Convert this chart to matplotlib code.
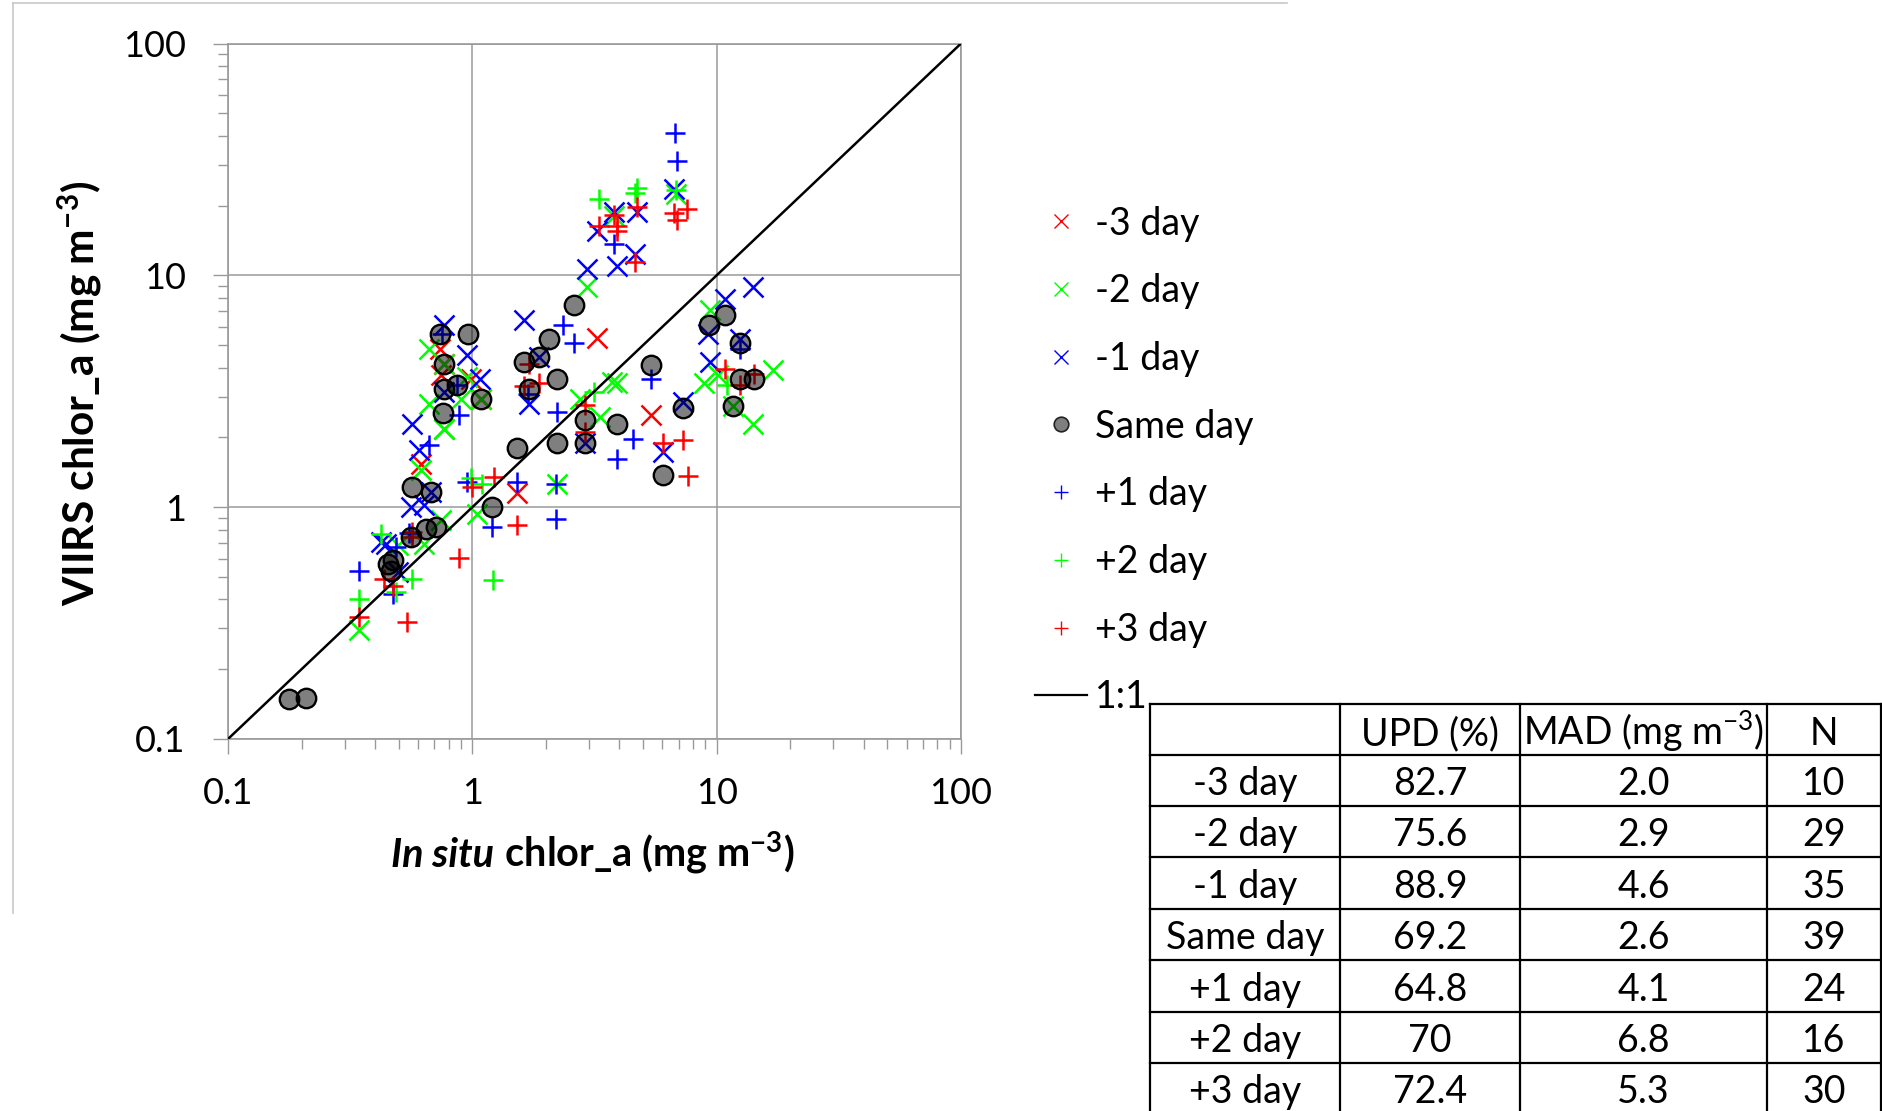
import matplotlib
matplotlib.use('Agg')
import matplotlib.pyplot as plt
from matplotlib.lines import Line2D
from matplotlib.ticker import LogLocator, NullFormatter

plt.rcParams['font.family'] = ['Lato', 'DejaVu Sans']
plt.rcParams['mathtext.fontset'] = 'custom'
plt.rcParams['mathtext.rm'] = 'Lato'
plt.rcParams['mathtext.it'] = 'Lato:italic'
plt.rcParams['mathtext.bf'] = 'Lato:bold'

# ---------------- data ----------------
m3_x = [0.738, 0.766, 0.743, 0.984, 1.081, 0.766, 0.615, 1.527, 3.237, 5.394]
m3_y = [4.83, 4.16, 3.70, 3.58, 2.94, 2.18, 1.54, 1.15, 5.38, 2.51]

m2_x = [0.665, 0.766, 0.954, 0.665, 0.896, 1.081, 0.766, 0.615, 0.743, 0.634,
        0.494, 0.344, 1.048, 2.223, 2.767, 3.728, 3.906, 3.340, 2.946, 3.80,
        6.82, 9.39, 8.875, 10.15, 11.69, 14.1, 16.93]
m2_y = [4.83, 4.16, 3.64, 2.79, 2.94, 2.94, 2.18, 1.44, 0.876, 0.695,
        0.684, 0.294, 0.936, 1.26, 2.94, 3.46, 3.43, 2.44, 8.90, 18.0,
        22.4, 7.06, 3.43, 3.70, 2.72, 2.29, 3.92]

m1_x = [0.766, 0.954, 1.074, 0.766, 0.569, 0.605, 0.560, 0.634, 0.680, 0.422,
        0.443, 0.494, 1.624, 1.870, 1.702, 2.901, 2.946, 3.906, 4.640, 3.237,
        3.784, 4.714, 6.714, 7.307, 6.05, 9.24, 9.39, 10.81, 14.1, 12.45]
m1_y = [6.08, 4.52, 3.58, 3.14, 2.29, 1.76, 1.0, 1.017, 1.16, 0.706,
        0.695, 0.524, 6.40, 4.44, 2.79, 1.89, 10.7, 11.0, 12.4, 15.6,
        18.8, 18.8, 23.5, 2.84, 1.73, 5.60, 4.23, 7.93, 8.90, 5.33]

same_x = [0.178, 0.209, 0.450, 0.4715, 0.464, 0.560, 0.645, 0.708, 0.569, 0.680,
          0.762, 0.766, 0.863, 1.081, 0.766, 0.738, 0.959, 1.207, 1.527, 1.624,
          1.702, 1.870, 2.055, 2.223, 2.223, 2.598, 2.901, 2.901, 3.906, 5.394,
          6.021, 7.307, 9.33, 10.81, 12.45, 12.45, 14.2, 11.62]
same_y = [0.149, 0.151, 0.570, 0.589, 0.533, 0.742, 0.807, 0.820, 1.22, 1.16,
          2.55, 3.24, 3.35, 2.94, 4.16, 5.60, 5.60, 1.0, 1.80, 4.23,
          3.24, 4.44, 5.33, 3.58, 1.89, 7.42, 2.37, 1.89, 2.28, 4.09,
          1.38, 2.69, 6.08, 6.72, 5.12, 3.58, 3.58, 2.72]

p1_x = [0.749, 0.863, 0.882, 0.665, 0.486, 0.344, 0.4715, 0.954, 1.207, 1.527,
        2.21, 2.21, 1.693, 2.223, 2.352, 2.598, 3.784, 6.76, 6.868, 5.394,
        4.566, 3.906, 12.45, 0.55]
p1_y = [5.56, 3.35, 2.49, 1.85, 0.672, 0.533, 0.423, 1.28, 0.825, 1.28,
        1.26, 0.891, 3.09, 2.57, 6.08, 5.10, 13.7, 41.1, 31.1, 3.58,
        1.97, 1.62, 4.83, 0.77]

p2_x = [0.422, 0.344, 0.569, 0.486, 0.984, 1.098, 1.214, 3.135, 3.287, 4.714,
        4.64, 6.82, 10.98]
p2_y = [0.768, 0.402, 0.491, 0.430, 1.33, 1.26, 0.483, 3.14, 21.4, 23.7,
        22.7, 23.3, 3.35]

p3_x = [6.714, 6.868, 7.545, 4.74, 3.784, 3.287, 3.918, 3.918, 4.640, 1.702,
        1.624, 1.870, 2.901, 2.901, 6.021, 7.307, 7.658, 10.81, 14.2, 12.45,
        1.225, 1.0, 1.527, 0.882, 0.538, 0.344, 0.569, 0.569, 0.436, 0.4715]
p3_y = [18.5, 17.3, 19.4, 19.7, 18.2, 16.4, 16.4, 15.5, 11.4, 4.16,
        3.32, 3.43, 2.75, 2.11, 1.89, 1.94, 1.36, 3.96, 3.74, 3.35,
        1.35, 1.22, 0.834, 0.605, 0.319, 0.335, 0.780, 0.742, 0.491, 0.459]

one_to_one = [0.1, 100]
tick_values = [0.1, 1, 10, 100]
tick_labels = ['0.1', '1', '10', '100']

table_header = ['', 'UPD (%)', 'MAD (mg m$^{-3}$)', 'N']
table_rows = ['-3 day', '-2 day', '-1 day', 'Same day', '+1 day', '+2 day', '+3 day']
table_upd = ['82.7', '75.6', '88.9', '69.2', '64.8', '70', '72.4']
table_mad = ['2.0', '2.9', '4.6', '2.6', '4.1', '6.8', '5.3']
table_n = ['10', '29', '35', '39', '24', '16', '30']

# ---------------- figure ----------------
W, H = 1883, 1111
fig = plt.figure(figsize=(W / 100, H / 100), dpi=100)
fig.patch.set_facecolor('white')


def fx(px):
    return px / W


def fy(py):
    return 1 - py / H


ax = fig.add_axes([fx(228), fy(739), fx(961) - fx(228), fy(43.5) - fy(739)])
ax.set_xscale('log')
ax.set_yscale('log')
ax.set_xlim(0.1, 100)
ax.set_ylim(0.1, 100)

RED, GREEN, BLUE = '#ff0000', '#00ff00', '#0000ff'
MS, MEW = 14.4, 1.8
series = [
    ('-3 day', m3_x, m3_y, 'x', RED),
    ('-2 day', m2_x, m2_y, 'x', GREEN),
    ('-1 day', m1_x, m1_y, 'x', BLUE),
    ('+1 day', p1_x, p1_y, '+', BLUE),
    ('+2 day', p2_x, p2_y, '+', GREEN),
    ('+3 day', p3_x, p3_y, '+', RED),
]
for lab, xs, ys, mk, col in series:
    ax.plot(xs, ys, linestyle='none', marker=mk, ms=MS, mew=MEW, color=col, zorder=3)
ax.plot(same_x, same_y, linestyle='none', marker='o', ms=14,
        mfc=(0, 0, 0, 0.5), mec='black', mew=1.7, zorder=4)
ax.plot(one_to_one, one_to_one, color='black', lw=1.8, zorder=5)

GRAY = '#9a9a9a'
ax.grid(True, which='major', color=GRAY, lw=1.1, zorder=0)
for s in ax.spines.values():
    s.set_color(GRAY)
    s.set_linewidth(1.2)
ax.set_axisbelow(True)
ax.set_xticks(tick_values)
ax.set_xticklabels(tick_labels)
ax.set_yticks(tick_values)
ax.set_yticklabels(tick_labels)
ax.xaxis.set_minor_locator(LogLocator(base=10, subs=range(2, 10)))
ax.yaxis.set_minor_locator(LogLocator(base=10, subs=range(2, 10)))
ax.xaxis.set_minor_formatter(NullFormatter())
ax.yaxis.set_minor_formatter(NullFormatter())
ax.tick_params(which='major', direction='out', length=10.5, width=1.0, color=GRAY,
               labelsize=26, labelcolor='black')
ax.tick_params(which='minor', direction='out', length=7.5, width=1.0, color=GRAY)
ax.tick_params(axis='x', which='major', pad=17)
ax.tick_params(axis='y', which='major', pad=20)

# y label
fig.text(fx(80), fy(393), 'VIIRS chlor_a (mg m$^{\\mathbf{-3}}$)', rotation=90,
         ha='center', va='center', fontsize=30.5, fontweight='bold')

# x label (italic part + regular part)
fig.canvas.draw()
r = fig.canvas.get_renderer()
t1 = fig.text(0, fy(867), 'In situ', fontsize=28.5, fontweight='bold', style='italic',
              ha='left', va='baseline')
t2 = fig.text(0, fy(867), ' chlor_a (mg m$^{\\mathbf{-3}}$)', fontsize=28.5, fontweight='bold',
              ha='left', va='baseline')
w1 = t1.get_window_extent(r).width
w2 = t2.get_window_extent(r).width
x0 = 592.7 - (w1 + w2) / 2
t1.set_x(fx(x0))
t2.set_x(fx(x0 + w1))

# legend
handles = []
labels = []
leg_specs = [('-3 day', 'x', RED), ('-2 day', 'x', GREEN), ('-1 day', 'x', BLUE),
             ('Same day', 'o', None), ('+1 day', '+', BLUE), ('+2 day', '+', GREEN),
             ('+3 day', '+', RED)]
for lab, mk, col in leg_specs:
    if mk == 'o':
        h = Line2D([], [], linestyle='none', marker='o', ms=10.5, mfc='#7f7f7f',
                   mec='#222222', mew=1.2)
    else:
        h = Line2D([], [], linestyle='none', marker=mk, ms=10, mew=1.0, color=col)
    handles.append(h)
    labels.append(lab)
handles.append(Line2D([], [], color='black', lw=1.6))
labels.append('1:1')
leg = ax.legend(handles, labels, loc='upper left', bbox_to_anchor=(fx(1035), fy(205.5)),
                bbox_transform=fig.transFigure, frameon=False, fontsize=27,
                labelspacing=0.845, handlelength=1.39, handletextpad=0.2,
                borderpad=0, borderaxespad=0, numpoints=1)

# figure frame (chart area border)
FR = '#c8c8c8'
fig.add_artist(Line2D([fx(12.7), fx(1287)], [fy(3.3), fy(3.3)], color=FR, lw=1.2,
                      transform=fig.transFigure))
fig.add_artist(Line2D([fx(12.7), fx(12.7)], [fy(3.3), fy(913)], color=FR, lw=1.2,
                      transform=fig.transFigure))

# table
col_x = [1150, 1340, 1520, 1767, 1881]
row_y = [704, 755, 806, 857, 909, 960, 1012, 1063, 1114]
for xx in col_x:
    fig.add_artist(Line2D([fx(xx), fx(xx)], [fy(row_y[0]), fy(row_y[-1])], color='black',
                          lw=1.6, transform=fig.transFigure, clip_on=False))
for yy in row_y:
    fig.add_artist(Line2D([fx(col_x[0]), fx(col_x[-1])], [fy(yy), fy(yy)], color='black',
                          lw=1.6, transform=fig.transFigure, clip_on=False))
for j, txt in enumerate(table_header):
    cx = (col_x[j] + col_x[j + 1]) / 2
    fig.text(fx(cx), fy(row_y[1] - 10), txt, ha='center', va='baseline', fontsize=27)
for i in range(len(table_rows)):
    vals = [table_rows[i], table_upd[i], table_mad[i], table_n[i]]
    for j, txt in enumerate(vals):
        cx = (col_x[j] + col_x[j + 1]) / 2
        fig.text(fx(cx), fy(row_y[i + 2] - 11), txt, ha='center', va='baseline', fontsize=27)

fig.savefig('out.png', dpi=100, facecolor='white')
